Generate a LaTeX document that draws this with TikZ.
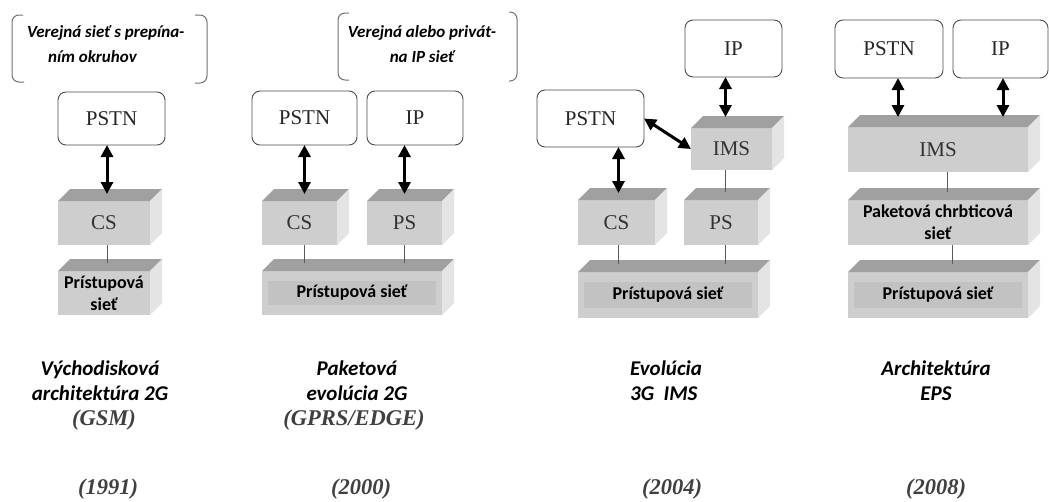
\documentclass[tikz,border=0pt]{standalone}
\usepackage{fontspec}
\setmainfont{Liberation Serif}
\newfontfamily\capfont{Carlito}
\usetikzlibrary{arrows.meta,calc}

\definecolor{boxfront}{RGB}{206,206,206}
\definecolor{boxtop}{RGB}{160,160,160}
\definecolor{boxside}{RGB}{228,228,228}
\definecolor{boxband}{RGB}{194,194,194}

\tikzset{
  cloudbox/.style={draw=black!70, line width=0.9pt, rounded corners=8pt, fill=white,
    anchor=north west, inner sep=0pt, outer sep=0pt, text=black!85,
    font=\fontsize{21}{21}\selectfont},
  slabfront/.style={fill=boxfront, anchor=north west, inner sep=0pt, outer sep=0pt,
    text=black!80, font=\fontsize{21}{21}\selectfont},
  slabtop/.style={fill=boxtop},
  slabside/.style={fill=boxside},
  netlabel/.style={font=\capfont\bfseries\fontsize{18}{22}\selectfont, text=black, align=center},
  banded/.style={path picture={\fill[boxband]
    ($(path picture bounding box.north west)+(6,10)$) rectangle
    ($(path picture bounding box.south east)+(-6,-10)$);}},
  link/.style={line width=3pt, {Triangle[length=12pt,width=12pt]}-{Triangle[length=12pt,width=12pt]}},
  tie/.style={draw=black!65, line width=1pt},
  bracket/.style={draw=black!55, line width=1pt, rounded corners=7pt},
  note/.style={font=\capfont\bfseries\itshape\fontsize{17}{25}\selectfont, text=black, inner sep=0pt},
  caption/.style={font=\capfont\bfseries\itshape\fontsize{21}{25}\selectfont, text=black,
    align=center, inner sep=0pt},
  era/.style={font=\bfseries\itshape\fontsize{22.5}{25}\selectfont, text=black!75, inner sep=0pt},
}

% rounded network cloud: name, x, y (top-left), width, height, text
\newcommand\mkcloud[6]{\node[cloudbox, minimum width=#4pt, minimum height=#5pt] (#1) at (#2,#3) {#6};}
% 3-D slab: [style], name, x, y (front top-left), width, height, text
\newcommand\mkslab[7][]{%
  \node[slabfront, minimum width=#5pt, minimum height=#6pt, #1] (#2) at (#3,#4) {#7};
  \fill[slabtop] (#2.north west) -- ++(12,-12) -- ($(#2.north east)+(12,-12)$) -- (#2.north east) -- cycle;
  \fill[slabside] (#2.north east) -- ++(12,-12) -- ($(#2.south east)+(12,-12)$) -- (#2.south east) -- cycle;
}

\begin{document}
\begin{tikzpicture}[x=1pt, y=-1pt]
\fill[white] (0,0) rectangle (1049,501);
\useasboundingbox (0,0) rectangle (1049,501);

% ---------- 2G (GSM) ----------
\draw[bracket] (23,15) -- (12,15) -- (12,82) -- (24,82);
\draw[bracket] (195,15) -- (207,15) -- (207,83) -- (195,83);
\node[note, anchor=west, align=left] (note1) at (27,44.5) {Verejná sieť s prepína-\\\hspace*{21pt}ním okruhov};
\mkcloud{pstn1}{58}{92}{107}{53}{PSTN}
\mkslab{cs1}{58}{201}{92}{44}{CS}
\mkslab[netlabel]{prist1}{58}{271}{92}{44}{Prístupová\\sieť}
\coordinate (cs1top) at ($(cs1.north)+(3,-7)$);
\draw[link] (cs1top |- pstn1.south) -- (cs1top);
\draw[tie] (cs1top |- cs1.south) -- ($(cs1top |- prist1.north)+(0,-8)$);
\node[caption] (cap1) at (100,381) {Východisková\\architektúra 2G};
\node[era] (sub1) at (104,420) {(GSM)};
\node[era] (yr1) at (108,489) {(1991)};

% ---------- 2G packet (GPRS/EDGE) ----------
\draw[bracket] (349,13) -- (338,13) -- (338,80) -- (349,80);
\draw[bracket] (509,12) -- (517,12) -- (517,81) -- (509,81);
\node[note, align=center] (note2) at (422,44.5) {Verejná alebo privát-\\na IP sieť};
\mkcloud{pstn2}{252}{91}{105}{54}{PSTN}
\mkcloud{ip2}{367}{91}{96}{54}{IP}
\mkslab{cs2}{262}{201}{75}{44}{CS}
\mkslab{ps2}{367}{201}{75}{44}{PS}
\mkslab[netlabel,banded]{prist2}{262}{271}{180}{44}{Prístupová sieť}
\coordinate (cs2top) at ($(cs2.north)+(5,-7)$);
\coordinate (ps2top) at ($(ps2.north)+(0,-7)$);
\draw[link] (cs2top |- pstn2.south) -- (cs2top);
\draw[link] (ps2top |- ip2.south) -- (ps2top);
\draw[tie] (cs2top |- cs2.south) -- ($(cs2top |- prist2.north)+(0,-8)$);
\draw[tie] (ps2top |- ps2.south) -- ($(ps2top |- prist2.north)+(0,-8)$);
\node[caption] (cap2) at (357,381) {Paketová\\evolúcia 2G};
\node[era] (sub2) at (354,420) {(GPRS/EDGE)};
\node[era] (yr2) at (361,489) {(2000)};

% ---------- 3G IMS ----------
\mkcloud{ip3}{685}{20}{97}{57}{IP}
\mkcloud{pstn3}{537}{90}{107}{57}{PSTN}
\mkslab{ims3}{691}{128}{81}{42}{IMS}
\mkslab{cs3}{578}{200}{77}{45}{CS}
\mkslab{ps3}{684}{200}{74}{45}{PS}
\mkslab[netlabel,banded]{prist3}{578}{272}{180}{46}{Prístupová sieť}
\coordinate (ims3top) at ($(ims3.north)+(-6,-11)$);
\coordinate (cs3top) at ($(cs3.north)+(2,-7)$);
\draw[link] (ims3top |- ip3.south) -- (ims3top);
\draw[link] (pstn3.east) -- (ims3.west);
\draw[link] (cs3top |- pstn3.south) -- (cs3top);
\draw[tie] (ims3top |- ims3.south) -- ($(ims3top |- ps3.north)+(0,-8)$);
\draw[tie] (cs3top |- cs3.south) -- ($(cs3top |- prist3.north)+(0,-8)$);
\draw[tie] (ims3top |- ps3.south) -- ($(ims3top |- prist3.north)+(0,-8)$);
\node[caption, align=left, anchor=west] (cap3) at (630,381) {Evolúcia\\3G\ \ IMS};
\node[era] (yr3) at (672,489) {(2004)};

% ---------- EPS ----------
\mkcloud{pstn4}{835}{20}{108}{58}{PSTN}
\mkcloud{ip4}{953}{20}{95}{58}{IP}
\mkslab{ims4}{848}{127}{180}{45}{IMS}
\mkslab[netlabel]{pkt4}{848}{200}{180}{45}{Paketová chrbticová\\sieť}
\mkslab[netlabel,banded]{prist4}{848}{272}{180}{46}{Prístupová sieť}
\coordinate (ims4l) at ($(ims4.north west)+(50,-10)$);
\coordinate (ims4r) at ($(ims4.north west)+(155,-10)$);
\draw[link] (ims4l |- pstn4.south) -- (ims4l);
\draw[link] (ims4r |- ip4.south) -- (ims4r);
\draw[tie] ($(ims4.south)+(9,0)$) -- ($(ims4.south |- pkt4.north)+(9,-8)$);
\draw[tie] ($(pkt4.south)+(14,0)$) -- ($(pkt4.south |- prist4.north)+(14,-8)$);
\node[caption] (cap4) at (936,381) {Architektúra\\EPS};
\node[era] (yr4) at (936,489) {(2008)};
\end{tikzpicture}
\end{document}
